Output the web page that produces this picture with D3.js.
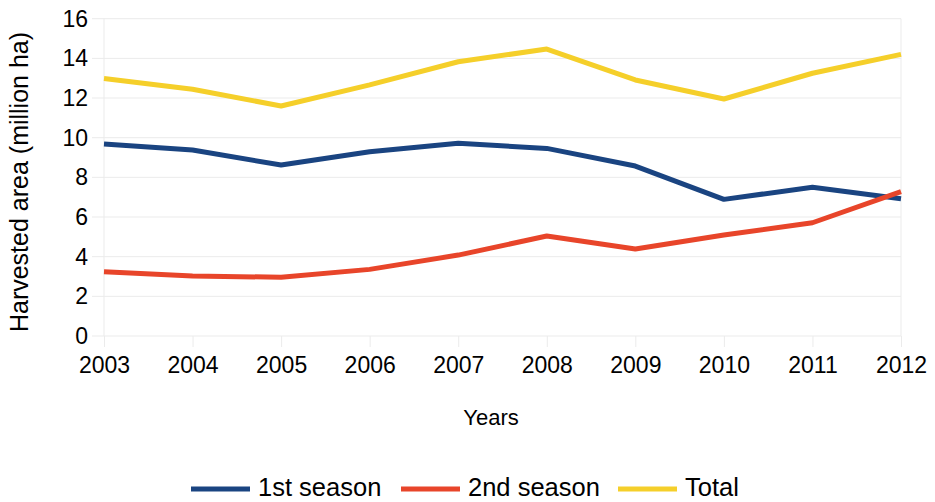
<!DOCTYPE html>
<html>
<head>
<meta charset="utf-8">
<script src="https://cdn.jsdelivr.net/npm/d3@7"></script>
<style>
  html, body { margin: 0; padding: 0; background: #fff; }
  svg { display: block; font-family: "Liberation Sans", Arial, sans-serif; }
</style>
</head>
<body>
<svg id="chart" width="935" height="502"></svg>
<script>
// Harvested area by season, million hectares
const years = ["2003", "2004", "2005", "2006", "2007", "2008", "2009", "2010", "2011", "2012"];
const firstSeason  = [9.68, 9.38, 8.62, 9.29, 9.72, 9.46, 8.57, 6.89, 7.50, 6.92];
const secondSeason = [3.24, 3.03, 2.96, 3.36, 4.08, 5.04, 4.39, 5.09, 5.71, 7.28];
const totalArea    = [12.98, 12.44, 11.60, 12.66, 13.83, 14.47, 12.91, 11.95, 13.25, 14.20];
const yTicks = [0, 2, 4, 6, 8, 10, 12, 14, 16];

const seriesNames  = ["1st season", "2nd season", "Total"];
const seriesValues = [firstSeason, secondSeason, totalArea];
const seriesColors = ["#1a4481", "#e8452a", "#f5cf2a"];

const svg = d3.select("#chart");
const plotLeft = 104, plotRight = 901, plotTop = 18.7, plotBottom = 336;

const x = d3.scalePoint().domain(years).range([plotLeft, plotRight]);
const y = d3.scaleLinear().domain([0, 16]).range([plotBottom, plotTop]);

const grid = "#ebebeb";

// horizontal gridlines (extend left past the plot as tick marks)
svg.append("g").selectAll("line").data(yTicks).join("line")
  .attr("x1", plotLeft - 12).attr("x2", plotRight)
  .attr("y1", d => y(d)).attr("y2", d => y(d))
  .attr("stroke", grid).attr("stroke-width", 1);

// plot side borders
svg.append("g").selectAll("line").data([plotLeft, plotRight]).join("line")
  .attr("x1", d => d).attr("x2", d => d)
  .attr("y1", plotTop).attr("y2", plotBottom)
  .attr("stroke", grid).attr("stroke-width", 1);

// x axis
const xAxis = svg.append("g").attr("transform", `translate(0,${plotBottom})`)
  .call(d3.axisBottom(x).tickSize(11).tickPadding(10));
xAxis.select(".domain").remove();
xAxis.selectAll(".tick line").attr("stroke", grid);
xAxis.selectAll(".tick text").attr("font-size", 23).attr("fill", "#000")
  .attr("font-family", "Liberation Sans, Arial, sans-serif");

// y axis labels
const yAxis = svg.append("g").attr("transform", `translate(${plotLeft - 12},0)`)
  .call(d3.axisLeft(y).tickValues(yTicks).tickSize(0).tickPadding(4));
yAxis.select(".domain").remove();
yAxis.selectAll(".tick text").attr("font-size", 23).attr("fill", "#000")
  .attr("font-family", "Liberation Sans, Arial, sans-serif");

// series lines
const line = d3.line().x((d, i) => x(years[i])).y(d => y(d));
seriesValues.forEach((vals, k) => {
  svg.append("path").datum(vals)
    .attr("d", line)
    .attr("fill", "none")
    .attr("stroke", seriesColors[k])
    .attr("stroke-width", 5)
    .attr("stroke-linejoin", "round");
});

// axis titles
svg.append("text")
  .attr("transform", `translate(28,182) rotate(-90)`)
  .attr("text-anchor", "middle")
  .attr("font-size", 25)
  .text("Harvested area (million ha)");

svg.append("text")
  .attr("x", 491).attr("y", 425)
  .attr("text-anchor", "middle")
  .attr("font-size", 22)
  .text("Years");

// legend
const legendX = [191, 401, 618];
const legend = svg.append("g");
seriesNames.forEach((name, k) => {
  legend.append("line")
    .attr("x1", legendX[k]).attr("x2", legendX[k] + 59)
    .attr("y1", 489).attr("y2", 489)
    .attr("stroke", seriesColors[k]).attr("stroke-width", 5);
  legend.append("text")
    .attr("x", legendX[k] + 67).attr("y", 496)
    .attr("font-size", 25.5)
    .text(name);
});
</script>
</body>
</html>
